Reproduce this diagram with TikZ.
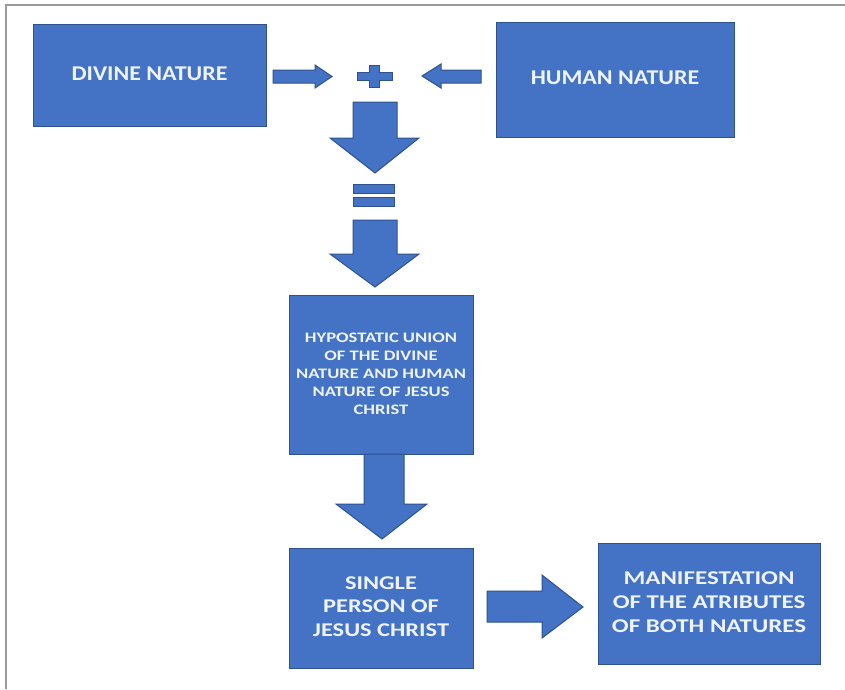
\documentclass[tikz,border=0pt]{standalone}
\usepackage{fontspec}
\setmainfont{Carlito}
\usepackage{graphicx}
\definecolor{boxblue}{HTML}{4472C4}
\definecolor{boxedge}{HTML}{2F528F}
\definecolor{framegray}{HTML}{9A9A9A}
\definecolor{txt}{HTML}{EEF3FA}
\newcommand{\wtx}[2]{\scalebox{#1}[1]{\begin{tabular}{@{}c@{}}#2\end{tabular}}}
\begin{document}
\begin{tikzpicture}[x=1pt,y=-1pt,
  blk/.style={fill=boxblue,draw=boxedge,line width=1pt},
  box/.style={blk,rectangle,inner sep=0pt,text=txt,align=center,font=\bfseries}]
\useasboundingbox (0,0) rectangle (845,689);
\fill[white] (0,0) rectangle (845,689);
% frame
\draw[framegray,line width=2pt] (6,689) -- (6,5) -- (845,5);
% boxes
\node[box,minimum width=233pt,minimum height=102pt] (divine) at (149.5,75)
  {\fontsize{21}{25}\selectfont\wtx{1.14}{DIVINE NATURE}};
\node[box,minimum width=238pt,minimum height=115pt] (human) at (615,79.5)
  {\fontsize{21}{25}\selectfont\wtx{1.14}{HUMAN NATURE}};
\node[box,minimum width=184pt,minimum height=159pt] (hypo) at (381,374.5)
  {\fontsize{14.5}{18}\selectfont\wtx{1.28}{HYPOSTATIC UNION\\OF THE DIVINE\\NATURE AND HUMAN\\NATURE OF JESUS\\CHRIST}};
\node[box,minimum width=184pt,minimum height=120pt] (single) at (381,608)
  {\fontsize{19.5}{23.5}\selectfont\wtx{1.25}{SINGLE\\PERSON OF\\JESUS CHRIST}};
\node[box,minimum width=222pt,minimum height=121pt] (manif) at (709,603.5)
  {\fontsize{19.5}{24}\selectfont\wtx{1.28}{MANIFESTATION\\OF THE ATRIBUTES\\OF BOTH NATURES}};
% plus and equals
\draw[blk] (369,65) -- (379,65) -- (379,72) -- (392,72) -- (392,80) -- (379,80) -- (379,87)
  -- (369,87) -- (369,80) -- (357,80) -- (357,72) -- (369,72) -- cycle;
\draw[blk] (353,184) rectangle (394,193);
\draw[blk] (353,197) rectangle (394,206);
% block arrows
\draw[blk] (273,70) -- (315,70) -- (315,65) -- (332,76.5) -- (315,88) -- (315,83) -- (273,83) -- cycle;
\draw[blk] (481,70) -- (441,70) -- (441,64) -- (422,76) -- (441,88) -- (441,83) -- (481,83) -- cycle;
\draw[blk] (353,102) -- (397,102) -- (397,138) -- (419,138) -- (375,173) -- (330,138) -- (353,138) -- cycle;
\draw[blk] (353,220) -- (397,220) -- (397,254) -- (419,254) -- (375,287) -- (330,254) -- (353,254) -- cycle;
\draw[blk] (364,454) -- (404,454) -- (404,504) -- (427,504) -- (382,539) -- (336,504) -- (364,504) -- cycle;
\draw[blk] (487,591) -- (542,591) -- (542,575) -- (583,607) -- (542,638) -- (542,622) -- (487,622) -- cycle;
\end{tikzpicture}
\end{document}
